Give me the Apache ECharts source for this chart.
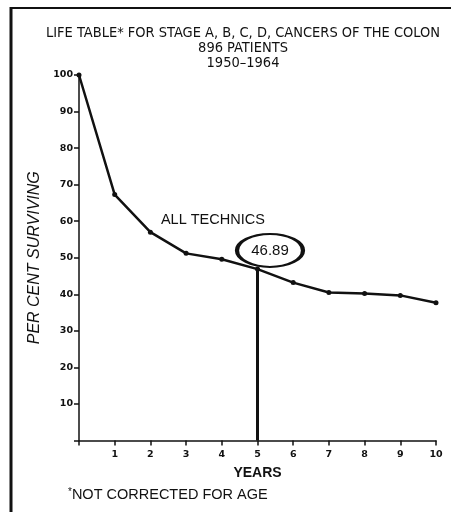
<!DOCTYPE html>
<html>
<head>
<meta charset="utf-8">
<script src="https://cdn.jsdelivr.net/npm/echarts@6/dist/echarts.min.js"></script>
<style>
  html, body { margin: 0; padding: 0; background: #fff; }
  #chart { width: 451px; height: 512px; }
</style>
</head>
<body>
<div id="chart"></div>
<script>
// life table values
const years = [0, 1, 2, 3, 4, 5, 6, 7, 8, 9, 10]
const surviving = [100, 67.3, 57.0, 51.2, 49.6, 46.89, 43.2, 40.5, 40.2, 39.7, 37.7]
const fiveYearValue = 46.89
const titleLines = ['LIFE TABLE* FOR STAGE A, B, C, D, CANCERS OF THE COLON', '896 PATIENTS', '1950–1964']

const ink = '#111'
const chart = echarts.init(document.getElementById('chart'), null, { renderer: 'canvas' })

const option = {
  animation: false,
  backgroundColor: '#fff',
  title: {
    text: titleLines.join('\n'),
    left: 238,
    top: 21,
    textAlign: 'center',
    textStyle: {
      fontFamily: 'DejaVu Sans Condensed',
      fontSize: 14.5,
      fontWeight: 'normal',
      lineHeight: 15,
      color: ink,
    },
  },
  grid: { left: 79, right: 15, top: 75, bottom: 71.5 },
  xAxis: {
    type: 'value',
    min: 0,
    max: 10,
    interval: 1,
    name: 'YEARS',
    nameLocation: 'middle',
    nameGap: 26,
    nameTextStyle: { fontFamily: 'Liberation Sans', fontSize: 14, fontWeight: 'bold', color: ink },
    splitLine: { show: false },
    axisLine: { lineStyle: { color: ink, width: 1.5 } },
    axisTick: { length: 5, lineStyle: { color: ink, width: 1.5 } },
    axisLabel: {
      margin: 9,
      fontFamily: 'DejaVu Sans',
      fontSize: 9.5,
      fontWeight: 'bold',
      color: ink,
      formatter: (v) => (v === 0 ? '' : v),
    },
  },
  yAxis: {
    type: 'value',
    min: 0,
    max: 100,
    interval: 10,
    name: 'PER CENT SURVIVING',
    nameLocation: 'middle',
    nameRotate: 90,
    nameGap: 32,
    nameTextStyle: { fontFamily: 'Liberation Sans', fontSize: 16, fontStyle: 'italic', color: ink },
    splitLine: { show: false },
    axisLine: { show: true, lineStyle: { color: ink, width: 1.5 } },
    axisTick: { show: true, length: 5, lineStyle: { color: ink, width: 1.5 } },
    axisLabel: {
      margin: 6,
      fontFamily: 'DejaVu Sans',
      fontSize: 9.5,
      fontWeight: 'bold',
      color: ink,
      formatter: (v) => (v === 0 ? '' : v),
    },
  },
  series: [
    {
      type: 'line',
      data: years.map((y, i) => [y, surviving[i]]),
      symbol: 'circle',
      symbolSize: 5,
      showSymbol: true,
      itemStyle: { color: ink },
      lineStyle: { color: ink, width: 2.5 },
      markLine: {
        silent: true,
        symbol: 'none',
        label: { show: false },
        lineStyle: { color: ink, width: 3, type: 'solid' },
        data: [[{ coord: [5, 0] }, { coord: [5, fiveYearValue] }]],
      },
      markPoint: {
        silent: true,
        data: [
          {
            coord: [5.35, 52],
            symbol: 'path://M0,50 A50,50 0 1,1 100,50 A50,50 0 1,1 0,50 Z',
            symbolSize: [66, 33],
            itemStyle: { color: 'rgba(0,0,0,0)', borderColor: ink, borderWidth: 3 },
            label: {
              show: true,
              position: 'inside',
              formatter: String(fiveYearValue),
              fontFamily: 'Liberation Sans',
              fontSize: 15,
              color: ink,
            },
          },
          {
            coord: [3.75, 60.4],
            symbol: 'circle',
            symbolSize: 0,
            label: {
              show: true,
              position: 'inside',
              formatter: 'ALL TECHNICS',
              fontFamily: 'Liberation Sans',
              fontSize: 14.5,
              color: ink,
            },
          },
        ],
      },
    },
  ],
  graphic: [
    { type: 'line', shape: { x1: 10, y1: 8, x2: 451, y2: 8 }, style: { stroke: ink, lineWidth: 2 } },
    { type: 'line', shape: { x1: 11, y1: 7, x2: 11, y2: 512 }, style: { stroke: ink, lineWidth: 3 } },
    {
      type: 'text',
      left: 68,
      top: 487,
      style: {
        text: '{s|*}NOT CORRECTED FOR AGE',
        rich: { s: { fontSize: 10, verticalAlign: 'top', fill: ink } },
        font: '14.5px "Liberation Sans"',
        fill: ink,
      },
    },
  ],
}

chart.setOption(option)
</script>
</body>
</html>
